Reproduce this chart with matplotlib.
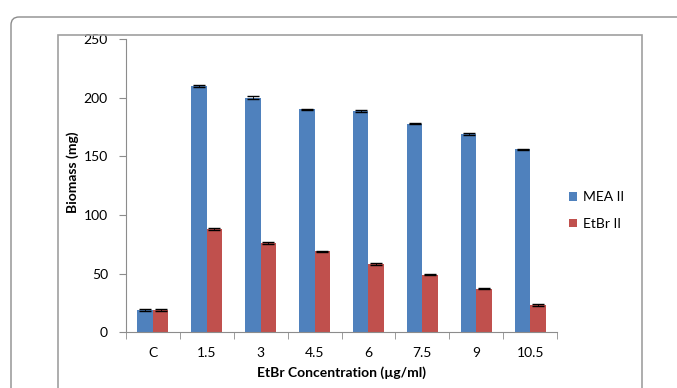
import numpy as np
import matplotlib
matplotlib.use('Agg')
import matplotlib.pyplot as plt
from matplotlib.patches import FancyBboxPatch, Rectangle

plt.rcParams['font.family'] = ['Lato', 'DejaVu Sans']

# data
categories = ['C', '1.5', '3', '4.5', '6', '7.5', '9', '10.5']
mea = [19, 210, 200, 190, 189, 178, 169, 156]
etbr = [19, 88, 76, 69, 58, 49, 37, 23]
mea_err = [0.6, 0.8, 1.2, 0.6, 0.8, 0.6, 0.6, 0.6]
etbr_err = [0.6, 0.6, 0.6, 0.6, 0.6, 0.6, 0.6, 0.6]
yticks = [0, 50, 100, 150, 200, 250]

fig = plt.figure(figsize=(6.77, 3.88), dpi=100)

# outer rounded frame and inner chart frame (pixel coords)
fig.patches.append(FancyBboxPatch((11, -20), 700, 388 - 17 + 20,
                                  boxstyle='round,pad=0,rounding_size=8',
                                  transform=None, fill=False,
                                  edgecolor='#8c8c8c', linewidth=1.0))
fig.patches.append(Rectangle((58, -10), 642 - 58, 388 - 35 + 10,
                             transform=None, fill=False,
                             edgecolor='#a0a0a0', linewidth=1.2))

ax = fig.add_axes([0.186, 0.144, 0.637, 0.755])

x = np.arange(len(categories))
w = 2 / 7  # gap width 150%
ekw = dict(ecolor='black', elinewidth=0.6, capthick=1.0)
ax.bar(x - w / 2, mea, w, color='#4F81BD', label='MEA II',
       yerr=mea_err, capsize=4.5, error_kw=ekw)
ax.bar(x + w / 2, etbr, w, color='#C0504D', label='EtBr II',
       yerr=etbr_err, capsize=4.5, error_kw=ekw)

ax.set_xlim(-0.5, len(categories) - 0.5)
ax.set_ylim(0, 250)
ax.set_yticks(yticks)
ax.set_xticks(x)
ax.set_xticklabels(categories)
ax.set_xticks(np.arange(len(categories) + 1) - 0.5, minor=True)
ax.tick_params(axis='x', which='major', length=0, pad=11, labelsize=10)
ax.tick_params(axis='x', which='minor', length=5, color='#8c8c8c', direction='out')
ax.tick_params(axis='y', length=5, color='#8c8c8c', labelsize=10, pad=8)

for s in ['top', 'right']:
    ax.spines[s].set_visible(False)
for s in ['left', 'bottom']:
    ax.spines[s].set_color('#8c8c8c')

ax.set_ylabel('Biomass (mg)', fontsize=10, fontweight='bold')
ax.yaxis.set_label_coords(-0.108, 0.545)
ax.set_xlabel('EtBr Concentration (µg/ml)', fontsize=10, fontweight='bold', labelpad=5)

ax.legend(loc='center left', bbox_to_anchor=(0.998, 0.415), frameon=False,
          fontsize=10, handlelength=0.6, handleheight=0.6, labelspacing=1.05,
          handletextpad=0.4)

fig.savefig('out.png', dpi=100)
